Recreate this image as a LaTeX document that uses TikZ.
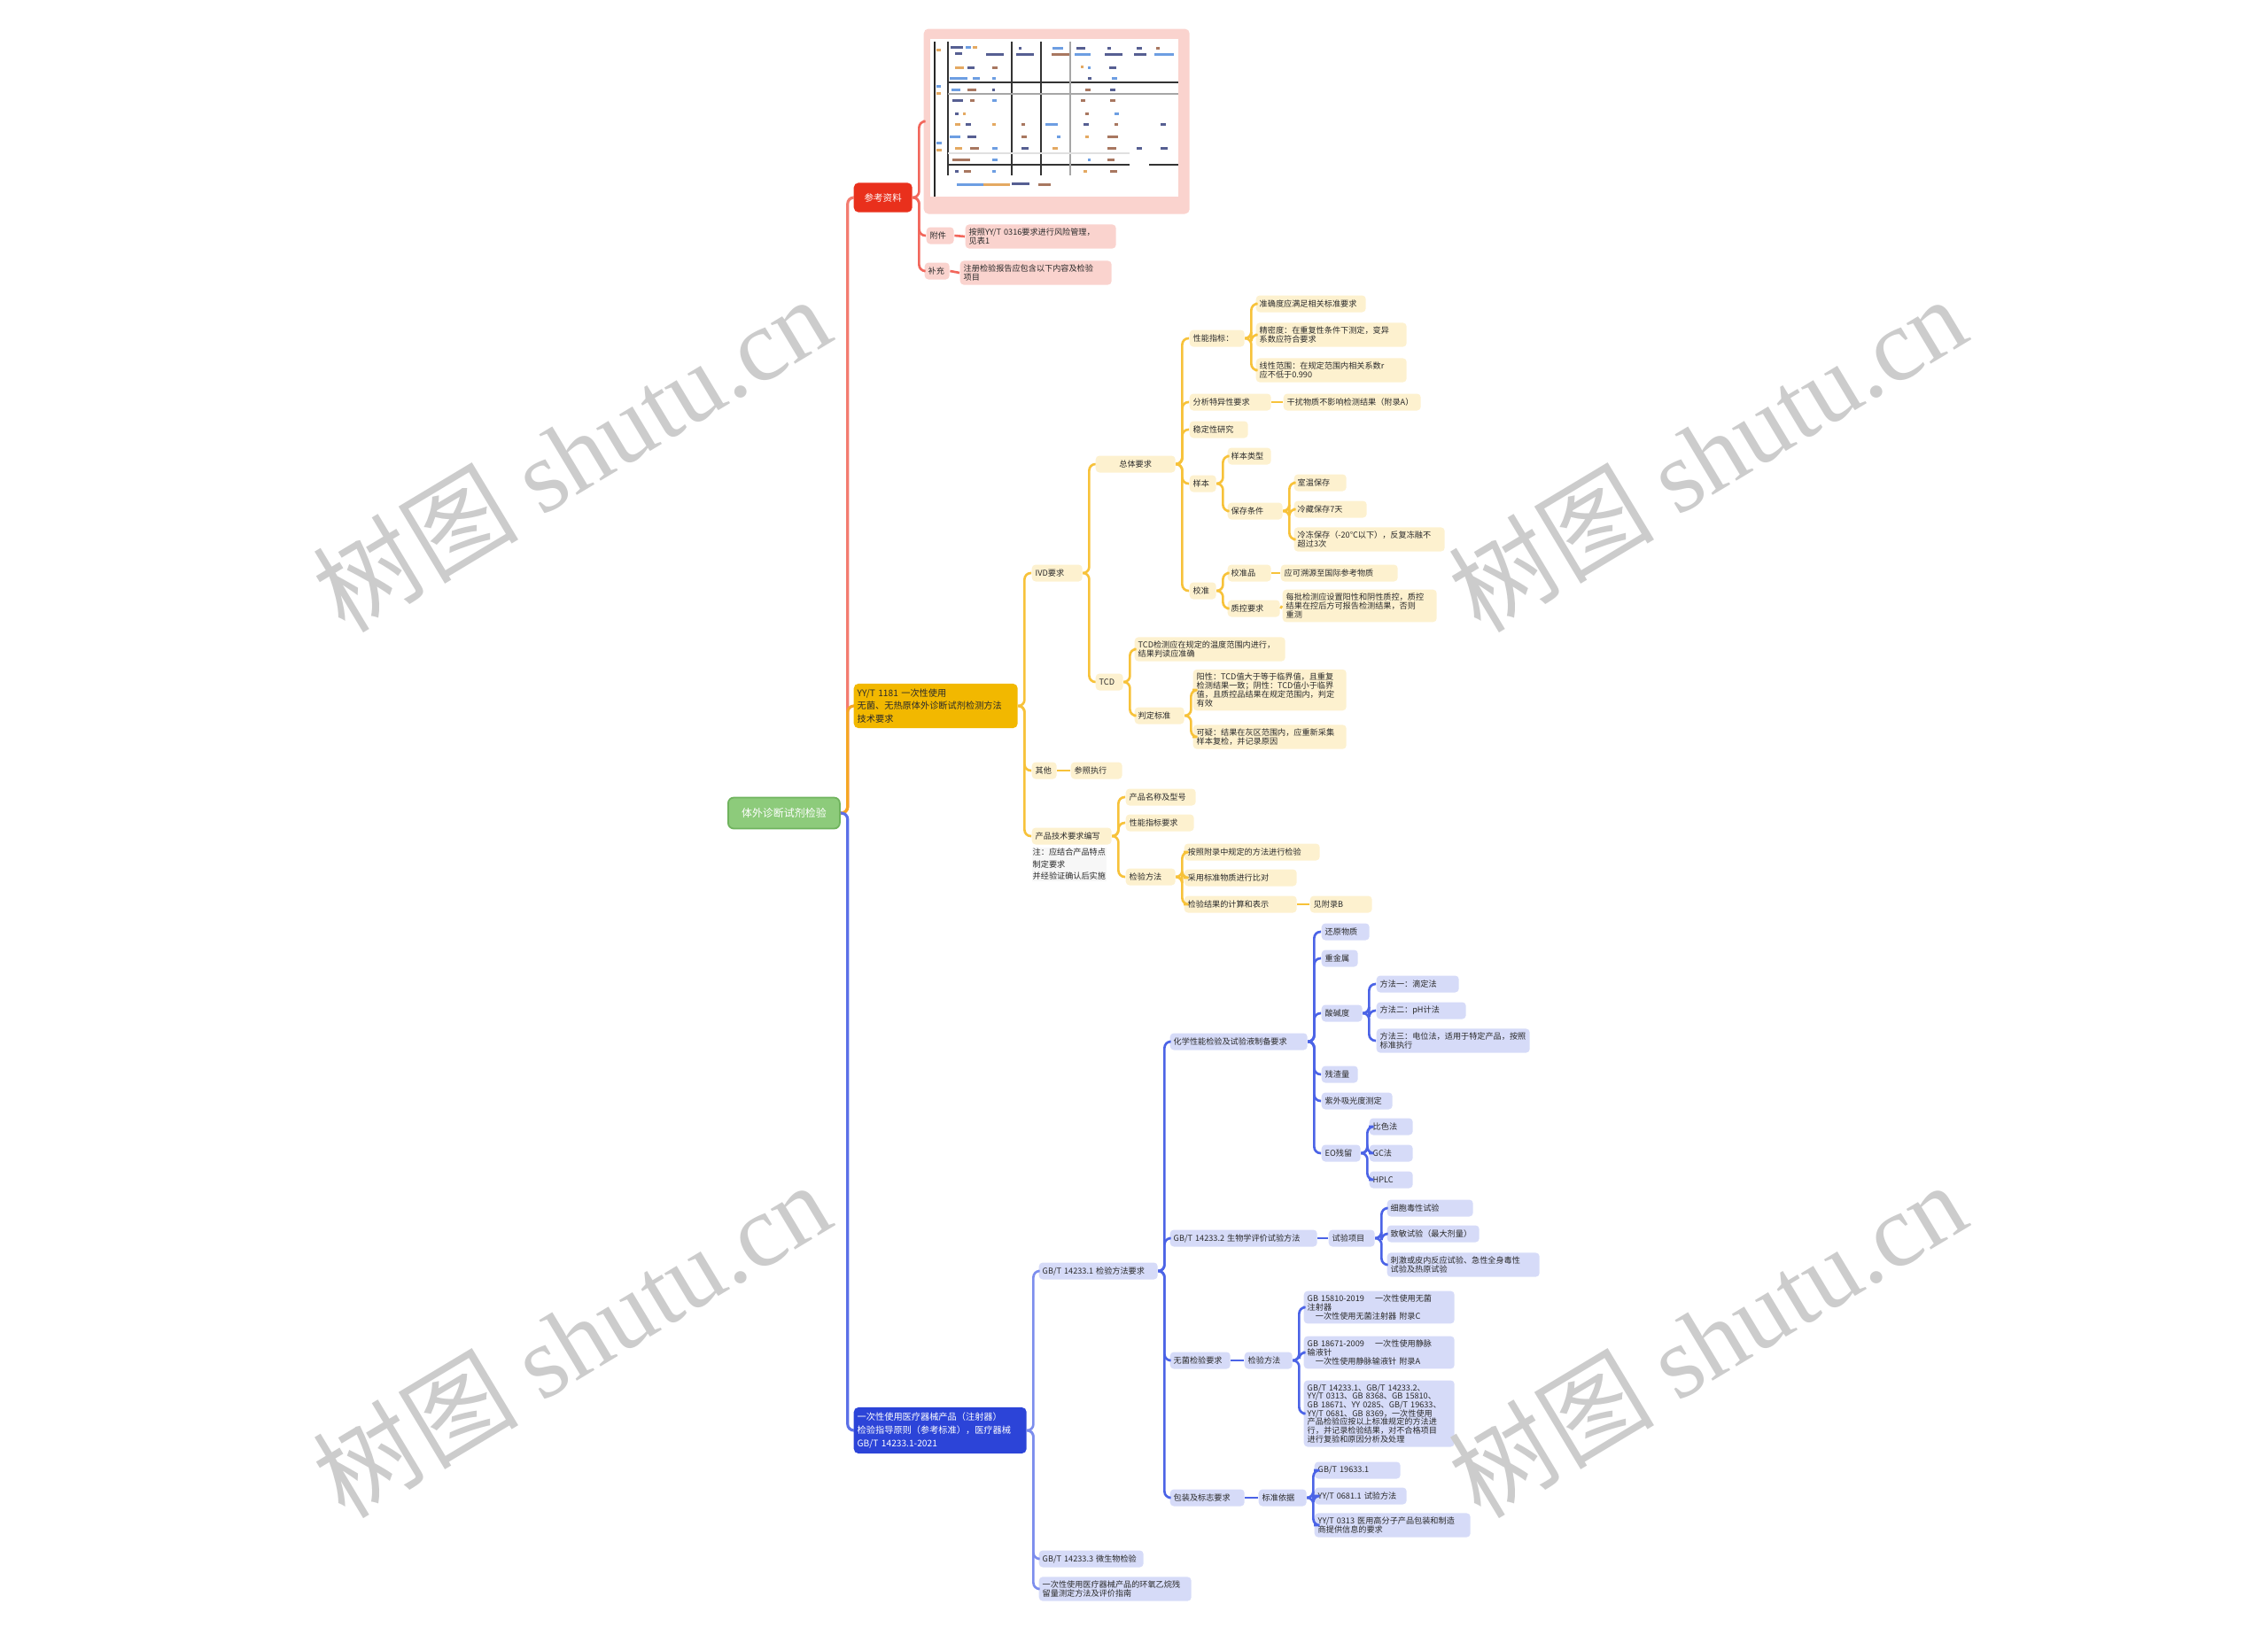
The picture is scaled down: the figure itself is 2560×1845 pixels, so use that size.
\documentclass[tikz,border=0pt]{standalone}
\usepackage{fontspec}
\setmainfont{Noto Sans CJK SC}
\newfontfamily\wmlatin{Liberation Serif}
\XeTeXlinebreaklocale "zh"
\XeTeXlinebreakskip=0pt
\newdimen\px \px=0.01cm
\newdimen\twd
\definecolor{rootg}{HTML}{8DCB7B}
\definecolor{rootgd}{HTML}{6FB35D}
\definecolor{redm}{HTML}{E9301C}
\definecolor{redl}{HTML}{FAD3CE}
\definecolor{redline}{HTML}{F2675C}
\definecolor{yelm}{HTML}{F2B800}
\definecolor{yell}{HTML}{FDF1CF}
\definecolor{yelline}{HTML}{F7C23A}
\definecolor{blum}{HTML}{2C44D8}
\definecolor{blul}{HTML}{D6DBF8}
\definecolor{bluline}{HTML}{4B63E6}
\definecolor{trR}{HTML}{F37C70}
\definecolor{trY}{HTML}{F5A623}
\definecolor{trB}{HTML}{5B70E8}
\definecolor{txt}{HTML}{2A2A2A}
\definecolor{wm}{HTML}{CCCCCC}
\definecolor{tnavy}{HTML}{1E2A6E}
\definecolor{torange}{HTML}{DB8C2E}
\definecolor{tblue}{HTML}{3C7DD9}
\definecolor{tbrown}{HTML}{8B4A2B}
\newcommand\nd[5]{\twd=#4\px \advance\twd by -8\px \edef\twv{\the\twd}\node[#1,text width=\twv] (#2) at (#3) {#5};}
\newcommand\cn[3]{\draw[#1] (#2.east) -- ++(7,0) |- (#3.west);}
\begin{document}
\begin{tikzpicture}[x=0.01cm,y=-0.01cm,
  basebox/.style={anchor=west, rounded corners=1.2pt, inner xsep=4\px, inner ysep=4.5\px, minimum height=19\px, align=left, text=txt, font=\fontsize{2.6pt}{2.75pt}\selectfont},
  leafR/.style={basebox, fill=redl},
  leafY/.style={basebox, fill=yell},
  leafB/.style={basebox, fill=blul},
  rootbox/.style={anchor=west, rounded corners=1.8pt, fill=rootg, draw=rootgd, line width=0.5pt, inner xsep=4\px, minimum height=35\px, align=center, text=white, font=\fontsize{3.4pt}{4pt}\selectfont},
  mainR/.style={anchor=west, rounded corners=1.5pt, fill=redm, inner xsep=4\px, minimum height=23\px, align=center, text=white, font=\fontsize{3pt}{3.5pt}\selectfont},
  mainY/.style={anchor=west, rounded corners=1.5pt, fill=yelm, inner xsep=4\px, inner ysep=6\px, align=left, text=txt, font=\fontsize{2.9pt}{4.1pt}\selectfont},
  mainB/.style={anchor=west, rounded corners=1.5pt, fill=blum, inner xsep=4\px, inner ysep=6\px, align=left, text=white, font=\fontsize{2.9pt}{4.2pt}\selectfont},
  tR/.style={draw=trR, line width=0.9pt, rounded corners=2pt},
  tY/.style={draw=trY, line width=0.9pt, rounded corners=2pt},
  tB/.style={draw=trB, line width=0.9pt, rounded corners=2pt},
  cR/.style={draw=redline, line width=0.75pt, rounded corners=2pt},
  cY/.style={draw=yelline, line width=0.75pt, rounded corners=2pt},
  cB/.style={draw=bluline, line width=0.75pt, rounded corners=2pt},
  cBl/.style={draw=trB!80!white, line width=0.75pt, rounded corners=2pt},
  wmark/.style={rotate=31, text=wm, font=\fontsize{33pt}{33pt}\selectfont}
]
\useasboundingbox (0,0) rectangle (2560,1845);

% ---------- root and main branches
\nd{rootbox}{root}{821,918}{126}{体外诊断试剂检验}
\node[mainR, minimum width=66\px] (rm) at (963,223) {参考资料};
\nd{mainY}{ym}{963,797}{185}{YY/T 1181 一次性使用\\无菌、无热原体外诊断试剂检测方法\\技术要求}
\nd{mainB}{bm}{963,1615}{195}{一次性使用医疗器械产品（注射器）\\检验指导原则（参考标准），医疗器械\\GB/T 14233.1-2021}

\draw[tR] (root.east) -- ++(8,0) |- (rm.west);
\draw[tY] (root.east) -- ++(8,0) |- (ym.west);
\draw[tB] (root.east) -- ++(8,0) |- (bm.west);

% ---------- red branch
\node[anchor=west, fill=redl, rounded corners=1.5pt, minimum width=300\px, minimum height=209\px, inner sep=0pt] (tbl) at (1042,137) {};
\fill[white] (1050,44) rectangle (1330,222);
\begin{scope}[line width=0.45pt]
\draw[black!85] (1055,47) -- (1055,222);
\draw[black!80] (1070,47) -- (1070,198) (1142,47) -- (1142,198) (1175,47) -- (1175,198);
\draw[black!80] (1070,93) -- (1330,93) (1070,186) -- (1275,186) (1297,186) -- (1330,186);
\draw[black!35] (1208,47) -- (1208,198) (1070,106) -- (1330,106);
\draw[black!12] (1070,173) -- (1275,173);
\end{scope}
\foreach \x/\y/\w/\c in {1073/52/14/tnavy,1090/52/6/tblue,1098/52/5/torange,1078/59/8/tnavy,1113/60/20/tnavy,1150/53/3/tnavy,1147/60/20/tnavy,1188/53/12/tblue,1187/60/20/tbrown,1215/53/10/tnavy,1213/60/18/tblue,1250/53/4/tnavy,1247/60/20/tnavy,1283/53/6/tnavy,1280/60/14/tnavy,1305/53/4/tbrown,1303/60/22/tblue,
1078/75/10/torange,1092/75/8/tnavy,1120/75/6/tbrown,1220/74/3/torange,1228/75/3/tblue,1252/75/8/tnavy,
1072/87/20/tblue,1098/87/8/tblue,1120/87/4/tblue,1228/87/4/tnavy,1255/87/6/tblue,
1074/100/10/tblue,1092/100/10/tbrown,1120/100/3/tnavy,1225/100/6/tbrown,1253/100/6/tnavy,
1075/112/12/tnavy,1095/112/5/tbrown,1120/112/5/tblue,1220/112/5/tbrown,1253/112/6/tbrown,
1078/127/4/tnavy,1087/127/3/torange,1225/127/4/tbrown,1258/127/5/tblue,
1078/139/6/torange,1090/139/6/tnavy,1120/139/4/torange,1153/139/4/tbrown,1180/139/14/tblue,1223/139/6/tnavy,1258/139/4/tbrown,1310/139/6/tnavy,
1072/153/12/tblue,1092/153/10/tnavy,1153/153/6/tbrown,1193/153/4/tblue,1225/153/4/torange,1250/153/12/tbrown,
1078/166/8/torange,1095/166/10/tbrown,1120/166/6/tblue,1153/166/8/tnavy,1188/166/6/torange,1250/166/10/tbrown,1283/166/6/tnavy,1310/166/8/tnavy,
1075/179/20/tbrown,1120/179/6/tblue,1228/179/3/tblue,1250/179/8/tbrown,
1078/192/4/tnavy,1088/192/8/tbrown,1120/192/4/tblue,1223/192/4/torange,1253/192/8/tbrown,
1080/207/30/tblue,1110/207/30/torange,1142/206/20/tnavy,1172/207/14/tbrown,
1057/55/5/torange,1057/96/5/tblue,1057/104/5/torange,1057/160/6/tblue,1057/168/6/torange}
  {\fill[\c!75] (\x,\y) rectangle ++(\w,2.5);}

\nd{leafR}{r1}{1045,266}{31}{附件}
\nd{leafR}{r1b}{1089,267}{170}{按照YY/T 0316要求进行风险管理，\\见表1}
\nd{leafR}{r2}{1043,306}{28}{补充}
\nd{leafR}{r2b}{1083,308}{171}{注册检验报告应包含以下内容及检验\\项目}
\cn{cR}{rm}{tbl}
\cn{cR}{rm}{r1}
\cn{cR}{rm}{r2}
\draw[cR] (r1.east) -- (r1b.west);
\draw[cR] (r2.east) -- (r2b.west);

% ---------- yellow branch
\nd{leafY}{y1}{1164,647}{57}{IVD要求}
\nd{leafY,align=center}{y11}{1236,524}{90}{总体要求}
\nd{leafY}{y111}{1342,382}{62}{性能指标：}
\nd{leafY}{y1111}{1417,343}{124}{准确度应满足相关标准要求}
\nd{leafY}{y1112}{1417,378}{170}{精密度：在重复性条件下测定，变异\\系数应符合要求}
\nd{leafY}{y1113}{1417,418}{170}{线性范围：在规定范围内相关系数r\\应不低于0.990}
\nd{leafY}{y112}{1342,454}{92}{分析特异性要求}
\nd{leafY}{y1121}{1448,454}{155}{干扰物质不影响检测结果（附录A）}
\nd{leafY}{y113}{1342,485}{66}{稳定性研究}
\nd{leafY}{y114}{1342,546}{30}{样本}
\nd{leafY}{y1141}{1385,515}{49}{样本类型}
\nd{leafY}{y1142}{1385,577}{62}{保存条件}
\nd{leafY}{y11421}{1460,545}{59}{室温保存}
\nd{leafY}{y11422}{1460,575}{82}{冷藏保存7天}
\nd{leafY}{y11423}{1460,609}{170}{冷冻保存（-20℃以下），反复冻融不\\超过3次}
\nd{leafY}{y115}{1342,667}{30}{校准}
\nd{leafY}{y1151}{1385,647}{49}{校准品}
\nd{leafY}{y11511}{1445,647}{132}{应可溯源至国际参考物质}
\nd{leafY}{y1152}{1385,687}{59}{质控要求}
\nd{leafY}{y11521}{1447,684}{174}{每批检测应设置阳性和阴性质控，质控\\结果在控后方可报告检测结果，否则\\重测}
\nd{leafY}{y12}{1236,770}{31}{TCD}
\nd{leafY}{y121}{1280,733}{170}{TCD检测应在规定的温度范围内进行，\\结果判读应准确}
\nd{leafY}{y122}{1280,808}{56}{判定标准}
\nd{leafY}{y1221}{1346,779}{173}{阳性：TCD值大于等于临界值，且重复\\检测结果一致；阴性：TCD值小于临界\\值，且质控品结果在规定范围内，判定\\有效}
\nd{leafY}{y1222}{1346,832}{173}{可疑：结果在灰区范围内，应重新采集\\样本复检，并记录原因}
\nd{leafY}{y2}{1164,870}{28}{其他}
\nd{leafY}{y21}{1208,870}{58}{参照执行}
\nd{leafY}{y3}{1164,944}{90}{产品技术要求编写}
\node[anchor=north west, align=left, inner sep=1\px, fill=black!3, text=txt, font=\fontsize{2.6pt}{3.9pt}\selectfont] (y3n) at (1164,956) {注：应结合产品特点\\制定要求\\并经验证确认后实施};
\nd{leafY}{y31}{1270,900}{79}{产品名称及型号}
\nd{leafY}{y32}{1270,929}{77}{性能指标要求}
\nd{leafY}{y33}{1270,990}{56}{检验方法}
\nd{leafY}{y331}{1336,962}{153}{按照附录中规定的方法进行检验}
\nd{leafY}{y332}{1336,991}{127}{采用标准物质进行比对}
\nd{leafY}{y333}{1336,1021}{127}{检验结果的计算和表示}
\nd{leafY}{y3331}{1478,1021}{70}{见附录B}

\foreach \c in {y1,y2,y3} {\cn{cY}{ym}{\c}}
\foreach \c in {y11,y12} {\cn{cY}{y1}{\c}}
\foreach \c in {y111,y112,y113,y114,y115} {\cn{cY}{y11}{\c}}
\foreach \c in {y1111,y1112,y1113} {\cn{cY}{y111}{\c}}
\draw[cY] (y112.east) -- (y1121.west);
\foreach \c in {y1141,y1142} {\cn{cY}{y114}{\c}}
\foreach \c in {y11421,y11422,y11423} {\cn{cY}{y1142}{\c}}
\foreach \c in {y1151,y1152} {\cn{cY}{y115}{\c}}
\draw[cY] (y1151.east) -- (y11511.west);
\draw[cY] (y1152.east) -- (y11521.west);
\foreach \c in {y121,y122} {\cn{cY}{y12}{\c}}
\foreach \c in {y1221,y1222} {\cn{cY}{y122}{\c}}
\draw[cY] (y2.east) -- (y21.west);
\foreach \c in {y31,y32,y33} {\cn{cY}{y3}{\c}}
\foreach \c in {y331,y332,y333} {\cn{cY}{y33}{\c}}
\draw[cY] (y333.east) -- (y3331.west);

% ---------- blue branch
\nd{leafB}{b1}{1172,1435}{134}{GB/T 14233.1 检验方法要求}
\nd{leafB}{b11}{1320,1176}{155}{化学性能检验及试验液制备要求}
\nd{leafB}{b111}{1491,1052}{54}{还原物质}
\nd{leafB}{b112}{1491,1082}{41}{重金属}
\nd{leafB}{b113}{1491,1144}{46}{酸碱度}
\nd{leafB}{b1131}{1553,1111}{93}{方法一：滴定法}
\nd{leafB}{b1132}{1553,1141}{101}{方法二：pH计法}
\nd{leafB}{b1133}{1553,1175}{173}{方法三：电位法，适用于特定产品，按照\\标准执行}
\nd{leafB}{b114}{1491,1213}{41}{残渣量}
\nd{leafB}{b115}{1491,1243}{80}{紫外吸光度测定}
\nd{leafB}{b116}{1491,1302}{44}{EO残留}
\nd{leafB}{b1161}{1545,1272}{49}{比色法}
\nd{leafB}{b1162}{1545,1302}{49}{GC法}
\nd{leafB}{b1163}{1545,1332}{49}{HPLC}
\nd{leafB}{b12}{1320,1398}{166}{GB/T 14233.2 生物学评价试验方法}
\nd{leafB}{b121}{1499,1398}{52}{试验项目}
\nd{leafB}{b1211}{1565,1364}{97}{细胞毒性试验}
\nd{leafB}{b1212}{1565,1393}{104}{致敏试验（最大剂量）}
\nd{leafB}{b1213}{1565,1428}{172}{刺激或皮内反应试验、急性全身毒性\\试验及热原试验}
\nd{leafB}{b13}{1320,1536}{68}{无菌检验要求}
\nd{leafB}{b131}{1404,1536}{54}{检验方法}
\nd{leafB}{b1311}{1471,1476}{170}{GB 15810-2019 \quad 一次性使用无菌\\注射器\\\quad 一次性使用无菌注射器 附录C}
\nd{leafB}{b1312}{1471,1527}{170}{GB 18671-2009 \quad 一次性使用静脉\\输液针\\\quad 一次性使用静脉输液针 附录A}
\nd{leafB}{b1313}{1471,1596}{170}{GB/T 14233.1、GB/T 14233.2、\\YY/T 0313、GB 8368、GB 15810、\\GB 18671、YY 0285、GB/T 19633、\\YY/T 0681、GB 8369，一次性使用\\产品检验应按以上标准规定的方法进\\行，并记录检验结果，对不合格项目\\进行复验和原因分析及处理}
\nd{leafB}{b14}{1320,1691}{84}{包装及标志要求}
\nd{leafB}{b141}{1420,1691}{54}{标准依据}
\nd{leafB}{b1411}{1483,1660}{97}{GB/T 19633.1}
\nd{leafB}{b1412}{1483,1689}{104}{YY/T 0681.1 试验方法}
\nd{leafB}{b1413}{1483,1722}{176}{YY/T 0313 医用高分子产品包装和制造\\商提供信息的要求}
\nd{leafB}{b2}{1172,1760}{118}{GB/T 14233.3 微生物检验}
\nd{leafB}{b3}{1172,1794}{172}{一次性使用医疗器械产品的环氧乙烷残\\留量测定方法及评价指南}

\foreach \c in {b1,b2,b3} {\cn{cBl}{bm}{\c}}
\foreach \c in {b11,b12,b13,b14} {\cn{cB}{b1}{\c}}
\foreach \c in {b111,b112,b113,b114,b115,b116} {\cn{cB}{b11}{\c}}
\foreach \c in {b1131,b1132,b1133} {\cn{cB}{b113}{\c}}
\foreach \c in {b1161,b1162,b1163} {\cn{cB}{b116}{\c}}
\draw[cB] (b12.east) -- (b121.west);
\foreach \c in {b1211,b1212,b1213} {\cn{cB}{b121}{\c}}
\draw[cB] (b13.east) -- (b131.west);
\foreach \c in {b1311,b1312,b1313} {\cn{cB}{b131}{\c}}
\draw[cB] (b14.east) -- (b141.west);
\foreach \c in {b1411,b1412,b1413} {\cn{cB}{b141}{\c}}

% ---------- watermarks
\node[wmark] (wm1) at (645,512) {树图 {\wmlatin shutu.cn}};
\node[wmark] (wm2) at (1927,512) {树图 {\wmlatin shutu.cn}};
\node[wmark] (wm3) at (645,1512) {树图 {\wmlatin shutu.cn}};
\node[wmark] (wm4) at (1927,1512) {树图 {\wmlatin shutu.cn}};
\end{tikzpicture}
\end{document}
